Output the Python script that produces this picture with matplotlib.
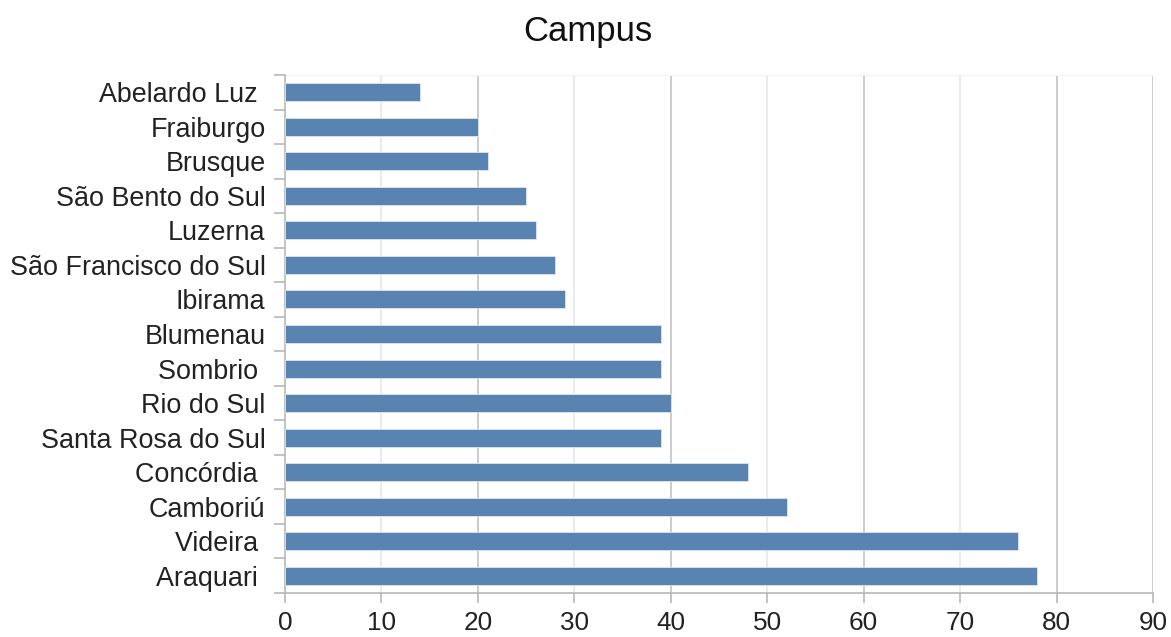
import matplotlib
matplotlib.use("Agg")
import matplotlib.pyplot as plt
import numpy as np

categories = ["Abelardo Luz ", "Fraiburgo", "Brusque", "São Bento do Sul", "Luzerna",
              "São Francisco do Sul", "Ibirama", "Blumenau", "Sombrio ", "Rio do Sul",
              "Santa Rosa do Sul", "Concórdia ", "Camboriú", "Videira ", "Araquari "]
values = [14, 20, 21, 25, 26, 28, 29, 39, 39, 40, 39, 48, 52, 76, 78]
xticks = [0, 10, 20, 30, 40, 50, 60, 70, 80, 90]

plt.rcParams['font.family'] = ['Liberation Sans', 'DejaVu Sans']

fig = plt.figure(figsize=(11.71, 6.37), dpi=100)
ax = fig.add_axes([285/1171, 1-593/637, (1153-285)/1171, (593-75)/637])

n = len(categories)
y = np.arange(n)
ax.barh(y, values, height=0.52, color="#5983b0", edgecolor="#dce6f0", linewidth=0.6, zorder=3)
ax.set_ylim(n - 0.5, -0.5)
ax.set_xlim(0, 90)

# gridlines: alternate darker / lighter
for t in xticks[1:]:
    c = "#c4c4c4" if t % 20 == 0 else "#e8e8e8"
    if t == 90:
        c = "#c4c4c4"
    ax.axvline(t, color=c, linewidth=1.2, zorder=1)
ax.axhline(-0.5, color="#f2f2f2", linewidth=1.0, zorder=1)

ax.set_xticks(xticks)
ax.set_xticklabels([str(t) for t in xticks])
ax.set_yticks(y)
ax.set_yticklabels(categories)
ax.set_yticks(np.arange(n + 1) - 0.5, minor=True)

ax.tick_params(axis='y', which='major', length=0, pad=14, labelsize=19.4, labelcolor="#222222")
ax.tick_params(axis='y', which='minor', length=8, width=1.2, color="#b8b8b8", direction='out')
ax.tick_params(axis='x', which='major', length=7.2, width=1.2, color="#b8b8b8", pad=6,
               labelsize=18.8, labelcolor="#222222")

for s in ['top', 'right']:
    ax.spines[s].set_visible(False)
for s in ['left', 'bottom']:
    ax.spines[s].set_color("#b8b8b8")
    ax.spines[s].set_linewidth(1.2)

fig.text(588/1171, 1-31/637, "Campus", ha='center', va='center', fontsize=25, color="#111111")

fig.savefig("out.png", dpi=100, facecolor="white")
